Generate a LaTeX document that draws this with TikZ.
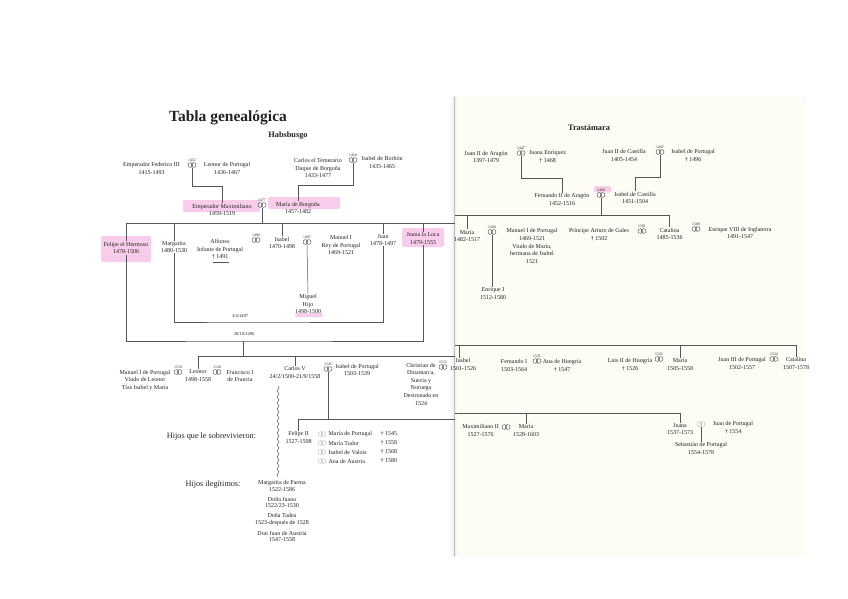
\documentclass[tikz,border=0pt]{standalone}
\usepackage{fontspec}
\setmainfont{Liberation Serif}
\usetikzlibrary{decorations.pathmorphing,calc}
\definecolor{ink}{HTML}{222222}
\definecolor{lin}{HTML}{555555}
\definecolor{hlpink}{HTML}{F4A3DA}
\definecolor{cream}{HTML}{FDFCF5}
\definecolor{faint}{HTML}{BBBBBB}
\begin{document}
\begin{tikzpicture}[x=1pt,y=-1pt,
  person/.style={align=center,font=\fontsize{6}{7.6}\selectfont,inner sep=0.4pt,text=ink},
  small/.style={align=center,font=\fontsize{6}{6.8}\selectfont,inner sep=0.4pt,text=ink},
  wife/.style={anchor=west,font=\fontsize{6}{7}\selectfont,inner sep=0.4pt,text=ink},
  head/.style={font=\bfseries\fontsize{8.3}{10}\selectfont,text=ink,inner sep=0},
  side/.style={font=\fontsize{8.2}{10}\selectfont,text=ink,inner sep=0},
  datelbl/.style={font=\fontsize{4.5}{5}\selectfont,text=ink,inner sep=0.3pt},
  yr/.style={font=\fontsize{3.8}{4}\selectfont,text=ink,inner sep=0.2pt},
  conn/.style={draw=lin,line width=0.5pt},
  wedc/.style={inner sep=0,minimum width=9,minimum height=6,
     path picture={\draw[#1,line width=0.45pt] ([xshift=-1.6pt]path picture bounding box.center) circle[radius=2.4pt] ([xshift=1.6pt]path picture bounding box.center) circle[radius=2.4pt];}},
  wed/.style={wedc=lin},
  wedf/.style={wedc=faint},
  wedy/.style={wedc=lin,label={[yr,label distance=0.3pt]above:#1}},
  hl/.style={fill=hlpink,opacity=0.55,rounded corners=2pt},
  wavy/.style={draw=lin,line width=0.45pt,decorate,decoration={snake,amplitude=1pt,segment length=6pt}},
]
\fill[white] (0,0) rectangle (848,599);
\useasboundingbox (0,0) rectangle (848,599);
% pages
\fill[cream] (454,97) rectangle (806,556);
\shade[left color=white,right color=black!8] (450,97) rectangle (454,556);
\shade[left color=black!8,right color=cream] (454,97) rectangle (457,556);
\draw[black!25,line width=0.4pt] (454,97) -- (454,556);

% highlights
\fill[hl] (183,200) rectangle (260,212);
\fill[hl] (268,197) rectangle (340,209);
\fill[hl] (101,236) rectangle (151,262);
\fill[hl] (402,228) rectangle (444,247);
\fill[hl] (594,186) rectangle (611,192.5);
\fill[hl] (295,313) rectangle (323,317);

% titles
\node[font=\bfseries\fontsize{15.5}{18}\selectfont,text=ink,inner sep=0] (title) at (228,118) {Tabla genealógica};
\node[head] (hab) at (288,136) {Habsbusgo};
\node[head] (tra) at (589,128) {Trastámara};

% generation 1 (left)
\node[person] (fed) at (151.5,168.5) {Emperador Federico III\\1415-1493};
\node[wedy=1452] (w1) at (192,165) {};
\node[person] (leo) at (227,168.5) {Leonor de Portugal\\1436-1467};
\node[person] (car) at (318,168) {Carlos el Temerario\\Duque de Borgoña\\1433-1477};
\node[wedy=1454] (w2) at (353,160) {};
\node[person] (isb) at (382,162.5) {Isabel de Borbón\\1435-1465};

% generation 1 (right)
\node[person] (j2a) at (486,157) {Juan II de Aragón\\1397-1479};
\node[wedy=1447] (w7) at (521,153) {};
\node[person] (jen) at (547.5,157) {Juana Enríquez\\† 1468};
\node[person] (j2c) at (624,155.5) {Juan II de Castilla\\1405-1454};
\node[wedy=1447] (w8) at (660,152) {};
\node[person] (ipo) at (693,155.5) {Isabel de Portugal\\† 1496};

% generation 2
\node[person] (max) at (222,210) {Emperador Maximiliano\\1459-1519};
\node[wedy=1477] (w3) at (262,205) {};
\node[person] (mar) at (298,208) {María de Borgoña\\1457-1482};
\node[person] (fer) at (562,199.5) {Fernando II de Aragón\\1452-1516};
\node[wedy=1469] (w6) at (601,195) {};
\node[person] (isc) at (635,198) {Isabel de Castilla\\1451-1504};

% generation 3 (left)
\node[person] (fel) at (126,248) {Felipe el Hermoso\\1478-1506};
\node[person] (marg) at (174,247) {Margarita\\1480-1530};
\node[person] (alf) at (220,249.5) {Alfonso\\Infante de Portugal\\† 1491};
\node[wedy=1490] (w4) at (256,240) {};
\node[person] (isa) at (282,243) {Isabel\\1470-1498};
\node[wedy=1497] (w5) at (307,242) {};
\node[person] (man1) at (341,245) {Manuel I\\Rey de Portugal\\1469-1521};
\node[person] (juan) at (383,240) {Juan\\1478-1497};
\node[person] (jua) at (423,238.5) {Juana la Loca\\1479-1555};
\node[person] (mig) at (308,304) {Miguel\\Hijo\\1498-1500};
\node[datelbl] (d1) at (240,316.5) {3/4/1497};
\node[datelbl] (d2) at (244,334.5) {20/10/1496};

% generation 3 (right)
\node[person] (maria) at (467,236) {María\\1482-1517};
\node[wedy=1500] (w9) at (492,232) {};
\node[person] (man2) at (532,246) {Manuel I de Portugal\\1469-1521\\Viudo de María,\\hermana de Isabel\\1521};
\node[person] (enr) at (493,293.5) {Enrique I\\1512-1580};
\node[person] (art) at (599,235) {Príncipe Arturo de Gales\\† 1502};
\node[wedy=1501] (w10) at (642,231) {};
\node[person] (cata) at (669.5,234) {Catalina\\1485-1536};
\node[wedy=1509] (w11) at (696,229) {};
\node[person] (enr8) at (740,233) {Enrique VIII de Inglaterra\\1491-1547};

% generation 4
\node[person] (m1p) at (145,380.5) {Manuel I de Portugal\\Viudo de Leonor\\Tías Isabel y María};
\node[wedy=1519] (w12) at (178,372) {};
\node[person] (leo2) at (198,375.5) {Leonor\\1498-1558};
\node[wedy=1530] (w13) at (217,372) {};
\node[person] (fra) at (240,376) {Francisco I\\de Francia};
\node[person] (c5) at (295,372.5) {Carlos V\\24/2/1500-21/9/1558};
\node[wedy=1526] (w14) at (328,369) {};
\node[person] (ipo2) at (357,370) {Isabel de Portugal\\1503-1539};
\node[person] (chr) at (421,384) {Christian de\\Dinamarca,\\Suecia y\\Noruega\\Destronado en\\1524};
\node[wedy=1515] (w15) at (443,367) {};
\node[person] (isa2) at (463,364.5) {Isabel\\1501-1526};
\node[person] (fer1) at (514,365.5) {Fernando I\\1503-1564};
\node[wedy=1521] (w16) at (537,361) {};
\node[person] (ana) at (562,365.5) {Ana de Hungría\\† 1547};
\node[person] (luis) at (630,364.5) {Luis II de Hungría\\† 1526};
\node[wedy=1522] (w17) at (659,359) {};
\node[person] (mar2) at (680,364.5) {María\\1505-1558};
\node[person] (j3) at (742,363.5) {Juan III de Portugal\\1502-1557};
\node[wedy=1524] (w18) at (774,359) {};
\node[person] (cat2) at (796,363.5) {Catalina\\1507-1578};

% generation 5
\node[side] (hs) at (211.5,437) {Hijos que le sobrevivieron:};
\node[person] (fe2) at (298.5,437.5) {Felipe II\\1527-1598};
\node[wedf] (r1) at (322,434) {};
\node[wedf] (r2) at (322,443) {};
\node[wedf] (r3) at (322,452) {};
\node[wedf] (r4) at (322,461) {};
\node[wife] (wf1) at (328,434) {María de Portugal};
\node[wife] (wf2) at (328,443) {María Tudor};
\node[wife] (wf3) at (328,452) {Isabel de Valois};
\node[wife] (wf4) at (328,461) {Ana de Austria};
\node[wife] (dg1) at (380,434) {† 1545};
\node[wife] (dg2) at (380,443) {† 1558};
\node[wife] (dg3) at (380,452) {† 1568};
\node[wife] (dg4) at (380,461) {† 1580};
\node[person] (max2) at (480.5,430.5) {Maximiliano II\\1527-1576};
\node[wed] (w19) at (506,427) {};
\node[person] (mar3) at (526,430.5) {María\\1528-1603};
\node[person] (juana) at (680,429) {Juana\\1537-1573};
\node[wedf] (w20) at (701,424) {};
\node[person] (jpo) at (733,427.5) {Juan de Portugal\\† 1554};
\node[person] (seb) at (701,448.5) {Sebastián de Portugal\\1554-1578};

\node[side] (hi) at (213,485) {Hijos ilegítimos:};
\node[small] (il1) at (282,486) {Margarita de Parma\\1522-1586};
\node[small] (il2) at (282,502.5) {Doña Juana\\1522/23-1530};
\node[small] (il3) at (282,519.5) {Doña Tadea\\1523-después de 1528};
\node[small] (il4) at (282,536.5) {Don Juan de Austria\\1547-1558};

% junction coordinates
\coordinate (j1) at (222,186);
\coordinate (j2) at (298,185);
\coordinate (j7) at (562,178);
\coordinate (j8) at (635,177);
\coordinate (barL) at (455,223);
\coordinate (barR) at (455,215);
\coordinate (mj) at (238,322);
\coordinate (fj) at (243,341);
\coordinate (cbL) at (455,356);
\coordinate (cbR) at (455,345);
\coordinate (gbL) at (455,419);
\coordinate (gbR) at (455,413);
\coordinate (wvA) at (278,386);
\coordinate (wvB) at (278,477);

% connectors
\draw[conn] (w1.south) |- (j1) -- (max.north);
\draw[conn] (w2.south) |- (j2) -- (mar.north);
\draw[conn] (w7.south) |- (j7) -- (fer.north);
\draw[conn] (w8.south) |- (j8) -- (isc.north);

\draw[conn] (fel.north) |- (barL);
\draw[conn] (w3.south) -- (w3.south |- barL);
\draw[conn] (marg.north) -- (marg.north |- barL);
\draw[conn] (isa.north) -- (isa.north |- barL);
\draw[conn] (juan.north) -- (juan.north |- barL);
\draw[conn] (jua.north) -- (jua.north |- barL);
\draw[conn] (barR) -| (cata.north);
\draw[conn] (w6.south) -- (w6.south |- barR);
\draw[conn] (maria.north) -- (maria.north |- barR);

\draw[conn] (213,262) -- (229,262);
\draw[conn] (w5.south) -- (mig.north);
\draw[conn] (w9.south) -- (w9.south |- enr.north);
\draw[conn] (marg.south) |- (mj) -| (juan.south);
\draw[conn] (fel.south) |- (fj) -| (jua.south);
\draw[conn] (fj) -- (fj |- cbL);

\draw[conn] (leo2.north) |- (cbL);
\draw[conn] (c5.north) -- (c5.north |- cbL);
\draw[conn] (cbR) -| (cat2.north);
\draw[conn] ([xshift=-4pt]isa2.north) -- ([xshift=-4pt]isa2.north |- cbR);
\draw[conn] (mar2.north) -- (mar2.north |- cbR);

\draw[wavy] (wvA) -- (wvB);
\draw[conn] (fe2.north) |- (gbL);
\draw[conn] (w14.south) -- (w14.south |- gbL);
\draw[conn] (gbR) -| (juana.north);
\draw[conn] (mar3.north) -- (mar3.north |- gbR);
\draw[conn] (w20.south) -- (seb.north);
\end{tikzpicture}
\end{document}
